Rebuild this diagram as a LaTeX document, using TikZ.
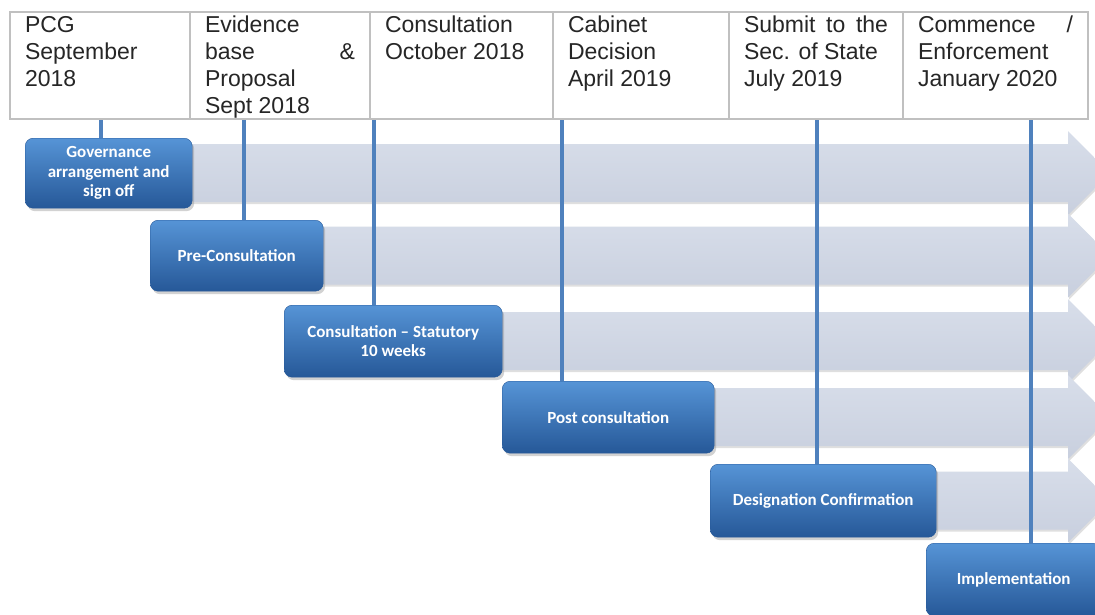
\documentclass[tikz,border=0pt]{standalone}
\usepackage{fontspec}
\setmainfont{Liberation Sans}
\newfontfamily\boxfont{Carlito}
\usepackage{tikz}
\usetikzlibrary{positioning,shadows,backgrounds,calc}

\definecolor{steptop}{RGB}{86,148,214}
\definecolor{stepbot}{RGB}{38,88,152}
\definecolor{linkblue}{RGB}{79,129,189}
\definecolor{bandtop}{RGB}{216,222,234}
\definecolor{bandgray}{RGB}{200,207,222}
\definecolor{rulegray}{RGB}{192,192,192}
\definecolor{cellink}{RGB}{38,38,38}

\newcommand{\celltext}[2]{\parbox[c][107pt][t]{#1}{\rule{0pt}{20.5pt}#2}}

\begin{document}
\begin{tikzpicture}[x=1pt, y=-1pt,
  cell/.style={draw=rulegray, line width=1.2pt, anchor=north west, inner xsep=15pt, inner ysep=0pt,
    outer sep=0pt, text=cellink, font=\fontsize{23}{27}\selectfont},
  stage/.style={rounded corners=8pt, draw=stepbot, top color=steptop, bottom color=stepbot,
    text=white, font=\boxfont\bfseries\fontsize{17}{19.5}\selectfont, align=center,
    anchor=north west, inner sep=0pt,
    drop shadow={opacity=0.35, shadow xshift=2pt, shadow yshift=-3pt}},
  link/.style={draw=linkblue, line width=3.5pt},
  band/.style={top color=bandtop, bottom color=bandgray}
  ]
  \useasboundingbox (0,0) rectangle (1095,614);

  \node[cell] (pcg) at (10,12) {\celltext{150pt}{PCG\\September\\2018}};
  \node[cell, right=0pt of pcg] (evid) {\celltext{150pt}{Evidence\\base\hfill\&\\Proposal\\Sept 2018}};
  \node[cell, right=0pt of evid] (consult) {\celltext{153pt}{Consultation\\October 2018}};
  \node[cell, right=0pt of consult] (cabinet) {\celltext{146pt}{Cabinet\\Decision\\April 2019}};
  \node[cell, right=0pt of cabinet] (submit) {\celltext{144pt}{Submit\hfill to\hfill the\\Sec. of State\\July 2019}};
  \node[cell, right=0pt of submit] (commence) {\celltext{155pt}{Commence\hfill /\\Enforcement\\January 2020}};

  \coordinate (t1) at (101,119);
  \coordinate (t2) at (244,119);
  \coordinate (t3) at (374,119);
  \coordinate (t4) at (562,119);
  \coordinate (t5) at (817,119);
  \coordinate (t6) at (1031,119);

  \node[stage, minimum width=167pt, minimum height=70pt] (gov) at (25,138) {Governance\\arrangement and\\sign off};
  \node[stage, minimum width=173pt, minimum height=71pt] (pre) at (150,220) {Pre-Consultation};
  \node[stage, minimum width=218pt, minimum height=72pt] (cons) at (284,305) {Consultation \textendash{} Statutory\\10 weeks};
  \node[stage, minimum width=212pt, minimum height=72pt] (post) at (502,381) {Post consultation};
  \node[stage, minimum width=226pt, minimum height=73pt] (desig) at (710,464) {Designation Confirmation};
  \node[stage, minimum width=175pt, minimum height=73pt] (impl) at (926,543) {Implementation};

  \begin{scope}[on background layer]
    \fill[white] (0,0) rectangle (1095,614);
    \foreach \b in {gov,pre,cons,post,desig}
      \shade[band, drop shadow={opacity=0.25, shadow xshift=1pt, shadow yshift=-2pt}]
        let \p1=(\b.center) in
        (\x1,\y1+29pt) -- (1068pt,\y1+29pt) -- (1068pt,\y1+42pt) -- (1110pt,\y1)
        -- (1068pt,\y1-42pt) -- (1068pt,\y1-29pt) -- (\x1,\y1-29pt) -- cycle;
    \draw[link] (t1) -- (t1 |- gov.center);
    \draw[link] (t2) -- (t2 |- pre.center);
    \draw[link] (t3) -- (t3 |- cons.center);
    \draw[link] (t4) -- (t4 |- post.center);
    \draw[link] (t5) -- (t5 |- desig.center);
    \draw[link] (t6) -- (t6 |- impl.center);
  \end{scope}
\end{tikzpicture}
\end{document}
